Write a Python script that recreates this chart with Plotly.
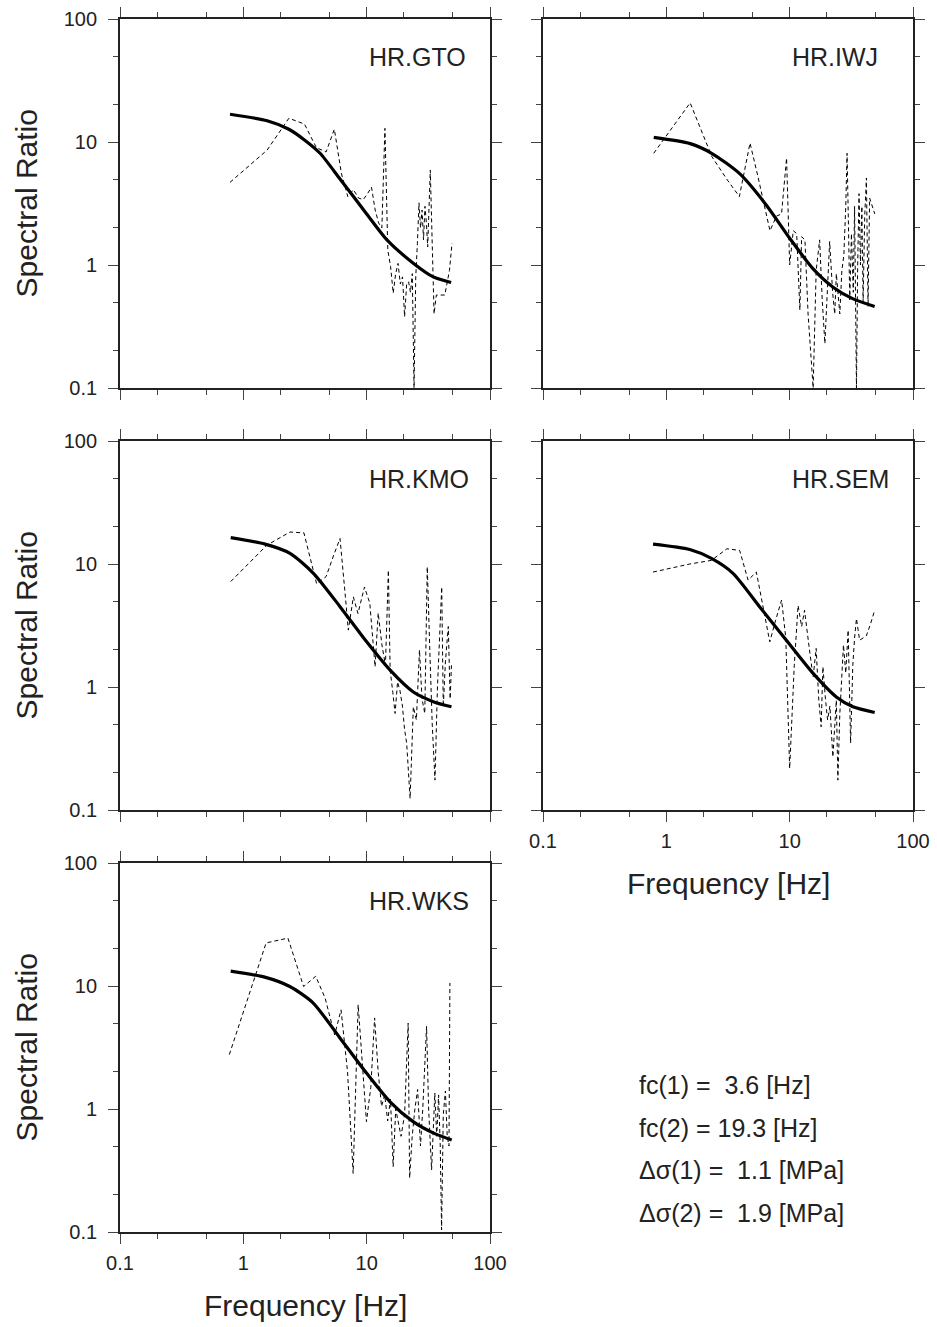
import plotly.graph_objects as go

W, H = 937, 1327
FONT = "Liberation Sans, Arial, Helvetica, sans-serif"
TXT = "#222222"

# ---------------- data ----------------
# HR.GTO
gto_obs_f = [0.78, 1.56, 2.34, 3.13, 3.91, 4.69, 5.47, 6.25, 7.03, 7.81, 8.59, 9.38, 10.16, 10.94,
             11.72, 12.5, 13.28, 14.06, 14.84, 15.63, 16.41, 17.19, 17.97, 18.75, 19.53, 20.31,
             21.09, 21.88, 22.66, 23.44, 24.22, 25.0, 25.78, 26.56, 27.34, 28.13, 28.9, 29.7,
             30.5, 31.25, 32.8, 35.2, 36.7, 39.1, 43.0, 46.9, 49.2]
gto_obs_r = [4.7, 8.6, 15.6, 14.0, 9.0, 8.3, 12.7, 5.5, 3.6, 4.1, 3.5, 3.4, 3.8, 4.3,
             2.8, 2.2, 2.0, 12.9, 1.32, 0.97, 0.59, 0.85, 1.03, 0.7, 0.8, 0.38,
             0.7, 0.73, 0.6, 0.85, 0.10, 0.8, 1.5, 3.2, 2.0, 2.8, 1.6, 3.0,
             2.2, 1.4, 5.9, 0.40, 0.57, 0.57, 0.57, 0.9, 1.5]
gto_fit_f = [0.78, 1.56, 2.34, 3.13, 4.19, 6.08, 7.81, 10.0, 14.6, 24.0, 34.7, 48.4]
gto_fit_r = [16.8, 14.9, 12.7, 10.4, 8.1, 5.0, 3.6, 2.6, 1.6, 1.03, 0.80, 0.72]

# HR.IWJ
iwj_obs_f = [0.79, 1.56, 2.34, 3.13, 3.91, 4.77, 5.47, 6.25, 6.92, 7.83, 8.59, 9.44, 10.0, 10.7,
             11.4, 12.1, 12.5, 13.3, 14.1, 15.5, 16.4, 17.5, 18.4, 19.3, 20.3, 21.1, 22.3,
             23.2, 23.9, 25.5, 26.5, 27.5, 28.5, 29.2, 30.0, 30.7, 31.7, 32.8, 33.6, 34.8,
             35.6, 36.5, 37.5, 38.5, 39.4, 40.6, 41.9, 43.2, 44.5, 46.9, 49.0]
iwj_obs_r = [8.1, 20.8, 7.6, 4.9, 3.6, 9.8, 5.5, 3.0, 1.9, 2.5, 2.6, 7.4, 1.0, 1.9,
             1.8, 0.43, 1.7, 1.6, 0.40, 0.10, 0.9, 1.6, 0.5, 0.23, 0.8, 1.55, 0.6,
             0.40, 0.85, 0.40, 0.9, 1.2, 3.0, 8.1, 2.0, 0.52, 1.8, 0.6, 3.0, 0.10,
             1.0, 3.8, 1.0, 3.0, 0.5, 2.5, 5.1, 0.46, 3.5, 3.0, 2.6]
iwj_fit_f = [0.79, 1.56, 2.33, 3.95, 6.5, 10.0, 15.5, 22.5, 32.7, 48.9]
iwj_fit_r = [10.9, 9.7, 8.1, 5.5, 3.05, 1.65, 0.93, 0.66, 0.53, 0.46]

# HR.KMO
kmo_obs_f = [0.79, 1.55, 2.39, 3.1, 3.93, 4.69, 5.47, 6.08, 6.67, 7.1, 7.8, 8.5, 9.6, 10.6,
             11.7, 12.4, 13.3, 14.2, 15.0, 15.5, 16.3, 17.0, 17.8, 18.6, 19.5, 20.3, 21.1,
             22.5, 23.9, 25.3, 26.8, 28.1, 29.6, 31.0, 32.5, 34.0, 35.8, 37.5, 39.0, 40.6,
             41.8, 43.5, 45.9, 47.5, 48.7]
kmo_obs_r = [7.2, 14.2, 18.2, 17.9, 6.9, 7.9, 12.2, 16.1, 5.9, 2.9, 5.4, 3.96, 6.5, 4.8,
             1.46, 4.0, 2.2, 1.5, 8.9, 1.37, 0.9, 0.61, 1.1, 0.94, 0.7, 0.45, 0.35,
             0.124, 0.69, 0.54, 2.0, 0.8, 0.61, 9.5, 2.0, 0.5, 0.175, 1.0, 2.5, 6.5,
             0.69, 1.6, 3.1, 0.8, 1.5]
kmo_fit_f = [0.79, 1.5, 2.39, 3.7, 6.08, 10.0, 15.5, 23.9, 34.7, 48.7]
kmo_fit_r = [16.4, 14.5, 12.2, 8.4, 4.5, 2.33, 1.37, 0.91, 0.76, 0.69]

# HR.SEM
sem_obs_f = [0.78, 1.55, 2.32, 3.1, 3.93, 4.6, 5.37, 6.2, 6.9, 7.7, 8.6, 9.3, 10.0, 10.9,
             11.7, 12.5, 13.2, 14.6, 15.5, 16.4, 17.2, 18.0, 18.6, 19.5, 20.3, 21.2, 22.4,
             23.9, 24.6, 25.5, 26.3, 27.3, 28.5, 29.8, 31.2, 32.5, 33.6, 34.8, 36.9, 39.0,
             41.8, 45.0, 48.9]
sem_obs_r = [8.6, 10.0, 10.7, 13.3, 12.9, 7.4, 8.6, 4.0, 2.33, 3.5, 5.1, 2.5, 0.218, 1.5,
             4.6, 3.1, 4.2, 1.87, 1.2, 2.06, 0.8, 0.475, 1.46, 0.8, 0.54, 0.7, 0.27,
             0.78, 0.175, 0.6, 1.14, 2.2, 1.3, 2.9, 0.35, 1.5, 2.5, 3.6, 2.4, 2.5,
             2.6, 3.2, 4.2]
sem_fit_f = [0.78, 1.55, 2.32, 3.47, 5.7, 9.4, 15.5, 23.9, 32.6, 48.9]
sem_fit_r = [14.5, 13.1, 11.1, 8.4, 4.5, 2.4, 1.29, 0.83, 0.69, 0.62]

# HR.WKS
wks_obs_f = [0.77, 1.53, 2.3, 3.08, 3.86, 4.6, 5.5, 6.2, 7.0, 7.77, 8.53, 9.3, 9.96, 10.8,
             11.6, 12.4, 13.2, 14.0, 14.8, 15.6, 16.4, 17.2, 18.0, 19.0, 20.3, 21.7, 22.3,
             23.4, 24.6, 25.9, 27.3, 28.5, 30.6, 31.8, 33.6, 35.7, 37.0, 38.3, 39.5, 40.5,
             41.8, 43.5, 45.0, 46.5, 47.3]
wks_obs_r = [2.77, 22.4, 24.5, 9.9, 12.0, 8.0, 4.0, 6.4, 2.0, 0.30, 7.05, 2.0, 0.79, 1.5,
             5.5, 2.0, 1.05, 1.3, 0.8, 1.2, 0.34, 1.0, 0.77, 0.6, 0.9, 5.0, 0.275,
             0.6, 1.0, 1.44, 0.5, 1.0, 4.7, 1.0, 0.32, 1.35, 0.6, 1.3, 0.5, 0.104,
             0.9, 1.4, 0.6, 0.5, 10.6]
wks_fit_f = [0.79, 1.49, 2.38, 3.67, 6.05, 9.96, 15.4, 23.8, 34.6, 48.9]
wks_fit_r = [13.2, 11.8, 9.9, 7.3, 3.8, 1.96, 1.15, 0.79, 0.64, 0.56]

stations = ["HR.GTO", "HR.IWJ", "HR.KMO", "HR.SEM", "HR.WKS"]
tick_vals = [0.1, 1, 10, 100]
tick_text = ["0.1", "1", "10", "100"]
minor_vals = [0.2, 0.5, 2, 5, 20, 50]
info_lines = ["fc(1) =\u00a0 3.6 [Hz]", "fc(2) = 19.3 [Hz]",
              "\u0394\u03c3(1) =\u00a0 1.1 [MPa]", "\u0394\u03c3(2) =\u00a0 1.9 [MPa]"]

obs = [(gto_obs_f, gto_obs_r), (iwj_obs_f, iwj_obs_r), (kmo_obs_f, kmo_obs_r),
       (sem_obs_f, sem_obs_r), (wks_obs_f, wks_obs_r)]
fit = [(gto_fit_f, gto_fit_r), (iwj_fit_f, iwj_fit_r), (kmo_fit_f, kmo_fit_r),
       (sem_fit_f, sem_fit_r), (wks_fit_f, wks_fit_r)]

# ---------------- layout geometry (pixels) ----------------
cols = [(120, 490), (543, 913)]
rows = [(19, 388), (441, 810), (863, 1232)]
cells = [(0, 0), (0, 1), (1, 0), (1, 1), (2, 0)]
show_x_labels = [False, False, False, True, True]
show_y_labels = [True, False, True, False, True]

fig = go.Figure()

for i in range(5):
    sfx = "" if i == 0 else str(i + 1)
    fx, fy = obs[i]
    mx, my = fit[i]
    fig.add_trace(go.Scatter(x=fx, y=fy, mode="lines", xaxis="x" + sfx, yaxis="y" + sfx,
                             line=dict(color="black", width=1, dash="4px,3px"),
                             showlegend=False, hoverinfo="skip"))
    fig.add_trace(go.Scatter(x=mx, y=my, mode="lines", xaxis="x" + sfx, yaxis="y" + sfx,
                             line=dict(color="black", width=3.2, shape="spline", smoothing=0.7),
                             showlegend=False, hoverinfo="skip"))

    r, c = cells[i]
    x0, x1 = cols[c]
    y0, y1 = rows[r]
    common = dict(type="log", range=[-1, 2], tickvals=tick_vals, ticktext=tick_text,
                  ticks="outside", ticklen=10, tickwidth=1, tickcolor="#444",
                  showline=True, linecolor="#222", linewidth=1.8, mirror="allticks",
                  showgrid=False, zeroline=False, automargin=False,
                  minor=dict(tickvals=minor_vals, ticks="outside", ticklen=5,
                             tickwidth=1, tickcolor="#444", showgrid=False),
                  tickfont=dict(family=FONT, size=20, color=TXT))
    fig.layout["xaxis" + sfx] = dict(common, domain=[x0 / W, x1 / W], anchor="y" + sfx,
                                     showticklabels=show_x_labels[i], ticklabelstandoff=2)
    fig.layout["yaxis" + sfx] = dict(common, domain=[1 - y1 / H, 1 - y0 / H], anchor="x" + sfx,
                                     showticklabels=show_y_labels[i], ticklabelstandoff=7)

    fig.add_annotation(x=0.667, y=0.897, xref="x" + sfx + " domain", yref="y" + sfx + " domain",
                       text=stations[i], showarrow=False, xanchor="left", yanchor="middle",
                       font=dict(family=FONT, size=25, color=TXT))

# axis titles
for (y0, y1) in rows:
    fig.add_annotation(x=26 / W, y=1 - (y0 + y1) / 2 / H, xref="paper", yref="paper",
                       text="Spectral Ratio", textangle=-90, showarrow=False,
                       xanchor="center", yanchor="middle",
                       font=dict(family=FONT, size=30, color=TXT))
for (xc, yc) in [((543 + 913) / 2, 884), ((120 + 490) / 2, 1305)]:
    fig.add_annotation(x=xc / W, y=1 - yc / H, xref="paper", yref="paper",
                       text="Frequency [Hz]", showarrow=False,
                       xanchor="center", yanchor="middle",
                       font=dict(family=FONT, size=30, color=TXT))

# parameter text
for k, line in enumerate(info_lines):
    yc = 1085 + k * 42.7
    fig.add_annotation(x=637 / W, y=1 - yc / H, xref="paper", yref="paper",
                       text=line, showarrow=False, xanchor="left", yanchor="middle",
                       font=dict(family=FONT, size=25, color=TXT))

fig.update_layout(width=W, height=H,
                  margin=dict(l=0, r=0, t=0, b=0, pad=0, autoexpand=False),
                  paper_bgcolor="white", plot_bgcolor="white")

fig.write_html("out.html",
               post_script="document.body.style.margin='0';document.body.style.overflow='hidden';")
